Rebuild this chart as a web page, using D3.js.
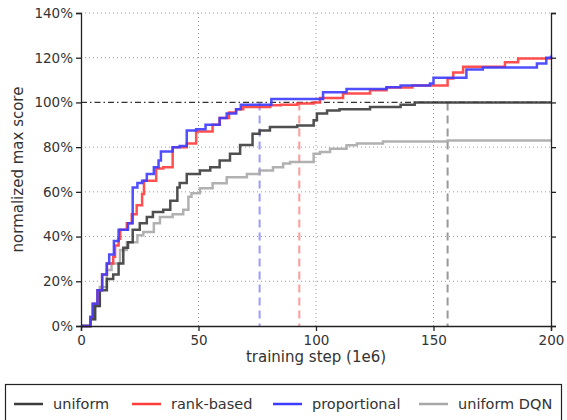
<!DOCTYPE html>
<html>
<head>
<meta charset="utf-8">
<script src="https://cdn.jsdelivr.net/npm/d3@7"></script>
<style>
  body { margin: 0; background: #fff; }
  svg { font-family: "DejaVu Sans", sans-serif; }
</style>
</head>
<body>
<script>
// step (1e6), normalized max score (%)
const uniformPts = [[0,0],[2,0],[4,3],[6,9],[8,16],[11,21],[13.7,23],[16,28],[18,35],[20,37.5],[22,43],[25,46],[28,48.7],[30.6,51],[35,52],[38,56],[41,62],[42,64],[45,68],[50.6,69.6],[55,71],[59,74],[63.4,77],[67.7,81],[73,86],[76,87.5],[80.4,89],[92,89.7],[99,92],[100.4,95],[104.7,96.4],[110,97],[123,98],[136,99],[142,100],[200,100]];
const rankPts = [[0,0],[2,0],[4,4],[5,10],[7,16],[9,23],[11,28],[13.7,31],[14.5,36],[16,39],[16.7,43],[19.5,46],[21.6,50],[23.7,54],[26,59],[26.8,65],[32,70.5],[35,71],[39,80],[45,81.6],[49,87],[56,90],[59,93],[63,95.5],[66,97],[69,98],[80.5,98.7],[85,99],[92,99.5],[99,100],[101.7,102],[111.5,104],[123,105.5],[130,106.7],[141,107.6],[156,110.7],[158.4,113.4],[162.6,116],[180.4,118],[186,119.6],[200,120]];
const propPts = [[0,0],[2,0],[4,4],[5,10],[7,16],[9,23],[11,28],[12,32],[14,38],[16,43],[20,46],[22,62],[24,64],[26,65],[28,68],[31,71],[33,74],[34,78],[39,80],[42,80.5],[45,87.5],[49,88],[53,90],[59,93],[62,95],[66,97],[68,99],[81,101.5],[103,104.5],[113,106],[130,106.8],[136,107.6],[148.5,108.5],[150,111],[164,114.7],[171,115.6],[194,117.4],[198,120],[200,121]];
const dqnPts = [[0,0],[2,0],[4,3],[6,9],[8,17.5],[11,25],[13,28],[16.6,34],[19.5,37.5],[24,40.6],[26.5,42],[31,46],[33.6,48.7],[39,50],[43.5,52],[45.7,57.8],[47,59.4],[50.6,61.6],[56,63.8],[62,66.5],[70.6,68],[76,69.6],[81.7,71],[86,72.7],[89,73.4],[99,77],[101.7,77.8],[106,79.3],[113,80.8],[117.4,81.6],[128.5,82.5],[156,83],[200,83]];

const seriesNames = ["uniform", "rank-based", "proportional", "uniform DQN"];
const seriesColors = ["#3c3c3c", "#ff3c3c", "#3c3cff", "#a8a8a8"];
// step at which each method reaches 100% (dashed markers)
const reachSteps = [76, 92.9, 156];
const reachColors = ["#9a9aff", "#ff9a9a", "#999999"];

const xTicks = [0, 50, 100, 150, 200];
const yTicks = [0, 20, 40, 60, 80, 100, 120, 140];

const W = 567, H = 420;
const m = { left: 81, right: 16, top: 13, bottom: 94 };

const svg = d3.select("body").append("svg").attr("width", W).attr("height", H);

const x = d3.scaleLinear().domain([0, 200]).range([m.left, W - m.right]);
const y = d3.scaleLinear().domain([0, 140]).range([H - m.bottom, m.top]);

/* grid */
const grid = svg.append("g").attr("stroke", "#999").attr("stroke-width", 1).attr("stroke-dasharray", "1,3");
grid.selectAll(".gy").data(yTicks.filter(d => d > 0 && d !== 100)).enter().append("line")
  .attr("x1", x(0)).attr("x2", x(200)).attr("y1", d => y(d)).attr("y2", d => y(d));
grid.selectAll(".gx").data(xTicks.filter(d => d > 0 && d < 200)).enter().append("line")
  .attr("y1", y(0)).attr("y2", y(140)).attr("x1", d => x(d)).attr("x2", d => x(d));

/* 100% reference line */
svg.append("line")
  .attr("x1", x(0)).attr("x2", x(200)).attr("y1", y(100)).attr("y2", y(100))
  .attr("stroke", "#333").attr("stroke-width", 1.3).attr("stroke-dasharray", "6,3,1.5,3");

/* dashed markers */
svg.selectAll(".reach").data(reachSteps).enter().append("line")
  .attr("x1", d => x(d)).attr("x2", d => x(d)).attr("y1", y(100)).attr("y2", y(0))
  .attr("stroke", (d, i) => reachColors[i]).attr("stroke-width", 2).attr("stroke-dasharray", "8,5");

/* curves */
const line = d3.line().x(d => x(d[0])).y(d => y(d[1])).curve(d3.curveStepAfter);
const allSeries = [dqnPts, uniformPts, rankPts, propPts];
const order = [3, 0, 1, 2];
svg.selectAll(".curve").data(allSeries).enter().append("path")
  .attr("d", line)
  .attr("fill", "none")
  .attr("stroke", (d, i) => seriesColors[order[i]])
  .attr("stroke-opacity", 0.9)
  .attr("stroke-width", 2.5);

/* axes */
const fmt = d => d + "%";
const gL = svg.append("g").attr("transform", `translate(${x(0)},0)`)
  .call(d3.axisLeft(y).tickValues(yTicks).tickFormat(fmt).tickSize(5).tickPadding(3));
const gR = svg.append("g").attr("transform", `translate(${x(200)},0)`)
  .call(d3.axisRight(y).tickValues(yTicks).tickFormat("").tickSize(5));
const gB = svg.append("g").attr("transform", `translate(0,${y(0)})`)
  .call(d3.axisBottom(x).tickValues(xTicks).tickSize(5).tickPadding(4));
[gL, gR, gB].forEach(g => {
  g.select(".domain").attr("stroke", "#222").attr("stroke-width", 1.3);
  g.selectAll(".tick line").attr("stroke", "#222").attr("stroke-width", 1.3);
  g.selectAll("text").attr("font-size", 13.5).attr("fill", "#333").attr("font-family", "DejaVu Sans");
});

/* axis labels */
svg.append("text")
  .attr("transform", `translate(23,${(y(0) + y(140)) / 2}) rotate(-90)`)
  .attr("text-anchor", "middle").attr("font-size", 15).attr("fill", "#333")
  .text("normalized max score");
svg.append("text")
  .attr("x", (x(0) + x(200)) / 2).attr("y", 362)
  .attr("text-anchor", "middle").attr("font-size", 15).attr("fill", "#333")
  .text("training step (1e6)");

/* legend */
svg.append("rect").attr("x", 5.5).attr("y", 384.5).attr("width", 556).attr("height", 50)
  .attr("fill", "#fff").attr("stroke", "#222").attr("stroke-width", 1.2);
const legX = [14, 132, 273, 419];
const leg = svg.selectAll(".leg").data(seriesNames).enter().append("g")
  .attr("transform", (d, i) => `translate(${legX[i]},404)`);
leg.append("line").attr("x1", 0).attr("x2", 29).attr("y1", 0).attr("y2", 0)
  .attr("stroke", (d, i) => seriesColors[i]).attr("stroke-width", 2.5);
leg.append("text").attr("x", 39).attr("y", 0).attr("dy", "0.35em")
  .attr("font-size", 14.5).attr("fill", "#333").text(d => d);
</script>
</body>
</html>
